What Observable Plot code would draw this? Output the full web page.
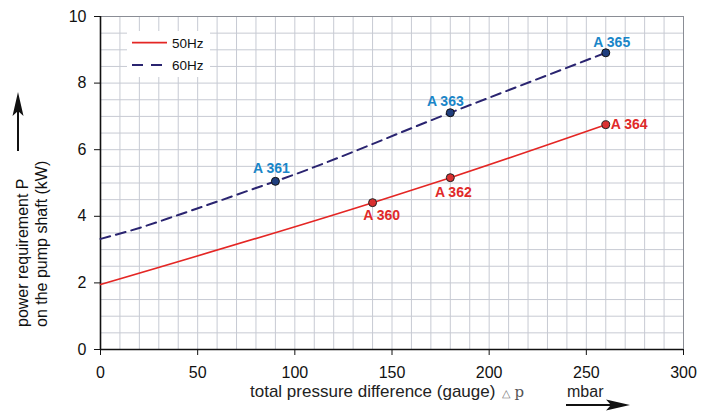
<!DOCTYPE html>
<html>
<head>
<meta charset="utf-8">
<script src="https://cdn.jsdelivr.net/npm/d3@7"></script>
<script src="https://cdn.jsdelivr.net/npm/@observablehq/plot@0.6"></script>
<style>
  html, body { margin: 0; padding: 0; background: #fff; }
  #chart { width: 714px; height: 412px; }
</style>
</head>
<body>
<div id="chart"></div>
<script>
// ---- data ----
const curve50_dp = [0, 140, 180, 260];
const curve50_P  = [1.95, 4.41, 5.16, 6.75];
const curve60_dp = [0, 20, 40, 60, 80, 90, 180, 260];
const curve60_P  = [3.32, 3.65, 4.04, 4.44, 4.85, 5.05, 7.11, 8.91];

const pumps50_name = ["A 360", "A 362", "A 364"];
const pumps50_dp   = [140, 180, 260];
const pumps50_P    = [4.41, 5.16, 6.75];
const pumps60_name = ["A 361", "A 363", "A 365"];
const pumps60_dp   = [90, 180, 260];
const pumps60_P    = [5.05, 7.11, 8.91];

const xTicks = [0, 50, 100, 150, 200, 250, 300];
const yTicks = [0, 2, 4, 6, 8, 10];
const xGrid = d3.range(0, 301, 10);
const yGrid = d3.range(0, 10.01, 0.5);
const seriesNames = ["50Hz", "60Hz"];

const line50 = curve50_dp.map((d, i) => ({dp: d, P: curve50_P[i]}));
const line60 = curve60_dp.map((d, i) => ({dp: d, P: curve60_P[i]}));
const pts50 = pumps50_name.map((n, i) => ({name: n, dp: pumps50_dp[i], P: pumps50_P[i]}));
const pts60 = pumps60_name.map((n, i) => ({name: n, dp: pumps60_dp[i], P: pumps60_P[i]}));

const RED = "#e42624", NAVY = "#2a2470", BLUE_T = "#1a86c8", RED_T = "#e02a2a";
const lbl = {fontSize: 14, fontWeight: "bold"};

const plot = Plot.plot({
  width: 714, height: 412,
  marginLeft: 100, marginRight: 31, marginTop: 16, marginBottom: 63,
  style: {fontFamily: "'Liberation Sans', Arial, sans-serif", fontSize: "16px", background: "#fff", color: "#111", overflow: "visible"},
  x: {domain: [0, 300]},
  y: {domain: [0, 10]},
  marks: [
    Plot.gridX(xGrid, {stroke: "#c7cad3", strokeOpacity: 1, strokeWidth: 1}),
    Plot.gridY(yGrid, {stroke: "#c7cad3", strokeOpacity: 1, strokeWidth: 1}),
    Plot.frame({stroke: "#8a8d95", strokeWidth: 1}),
    Plot.axisX(xTicks, {tickSize: 6, tickPadding: 11, fontSize: 16, label: null, stroke: "#111", fill: "#111"}),
    Plot.axisY(yTicks, {tickSize: 6, tickPadding: 8, fontSize: 16, label: null, stroke: "#111", fill: "#111"}),
    Plot.ruleX([0], {stroke: "#111", strokeWidth: 1.6}),
    Plot.ruleY([0], {stroke: "#111", strokeWidth: 1.6}),
    Plot.line(line50, {x: "dp", y: "P", stroke: RED, strokeWidth: 1.6, curve: "monotone-x"}),
    Plot.line(line60, {x: "dp", y: "P", stroke: NAVY, strokeWidth: 2, strokeDasharray: "10,6", curve: "monotone-x"}),
    Plot.dot(pts60, {x: "dp", y: "P", r: 4, fill: "#1f3e7e", stroke: "#111", strokeWidth: 1}),
    Plot.dot(pts50, {x: "dp", y: "P", r: 4, fill: "#d93030", stroke: "#222", strokeWidth: 1}),
    // 60 Hz labels (above)
    Plot.text(pts60, {filter: (d, i) => i === 0, x: "dp", y: "P", text: "name", dx: -4, dy: -13, fill: BLUE_T, ...lbl}),
    Plot.text(pts60, {filter: (d, i) => i === 1, x: "dp", y: "P", text: "name", dx: -5, dy: -11, fill: BLUE_T, ...lbl}),
    Plot.text(pts60, {filter: (d, i) => i === 2, x: "dp", y: "P", text: "name", dx: 6, dy: -10, fill: BLUE_T, ...lbl}),
    // 50 Hz labels
    Plot.text(pts50, {filter: (d, i) => i === 0, x: "dp", y: "P", text: "name", dx: 9, dy: 13, fill: RED_T, ...lbl}),
    Plot.text(pts50, {filter: (d, i) => i === 1, x: "dp", y: "P", text: "name", dx: 3, dy: 15, fill: RED_T, ...lbl}),
    Plot.text(pts50, {filter: (d, i) => i === 2, x: "dp", y: "P", text: "name", dx: 5, dy: 0, textAnchor: "start", fill: RED_T, ...lbl})
  ]
});

document.getElementById("chart").appendChild(plot);

// ---- decorations: legend, axis titles, arrows ----
const svg = d3.select(plot);
const font = "'Liberation Sans', Arial, sans-serif";
function txt(sel) {
  return sel.attr("font-family", font).attr("text-anchor", "start").attr("fill", "#111");
}

// legend (inside plot, top-left)
const lg = svg.append("g");
lg.append("rect").attr("x", 127).attr("y", 31).attr("width", 83).attr("height", 46).attr("fill", "#fff");
lg.append("line").attr("x1", 132).attr("x2", 167).attr("y1", 42.7).attr("y2", 42.7)
  .attr("stroke", RED).attr("stroke-width", 1.8);
lg.append("line").attr("x1", 132).attr("x2", 167).attr("y1", 65).attr("y2", 65)
  .attr("stroke", NAVY).attr("stroke-width", 2).attr("stroke-dasharray", "11,8");
txt(lg.append("text")).attr("x", 172).attr("y", 47.5).attr("font-size", 13.5).text(seriesNames[0]);
txt(lg.append("text")).attr("x", 172).attr("y", 69.5).attr("font-size", 13.5).text(seriesNames[1]);

// y title (two rotated lines)
txt(svg.append("text")).attr("transform", "translate(28,327) rotate(-90)")
  .attr("font-size", 16).text("power requirement P");
txt(svg.append("text")).attr("transform", "translate(47,327) rotate(-90)")
  .attr("font-size", 16).text("on the pump shaft (kW)");
// y arrow
svg.append("line").attr("x1", 18).attr("x2", 18).attr("y1", 151).attr("y2", 105)
  .attr("stroke", "#111").attr("stroke-width", 2);
svg.append("path").attr("d", "M18,92 L23.5,116 L18,111 L12.5,116 Z").attr("fill", "#111");

// x title
const xt = txt(svg.append("text")).attr("x", 250).attr("y", 397).attr("font-size", 17).attr("fill", "#222");
xt.append("tspan").text("total pressure difference (gauge)");
xt.append("tspan").attr("dx", 7).attr("font-size", 11).attr("fill", "#777").text("△");
xt.append("tspan").attr("dx", 4).attr("font-family", "'DejaVu Serif', 'Liberation Serif', serif")
  .attr("font-size", 15).attr("fill", "#555").text("p");
txt(svg.append("text")).attr("x", 567).attr("y", 396.5).attr("font-size", 16).attr("fill", "#222").text("mbar");
// x arrow
svg.append("line").attr("x1", 566).attr("x2", 614).attr("y1", 405).attr("y2", 405)
  .attr("stroke", "#111").attr("stroke-width", 1.8);
svg.append("path").attr("d", "M630,405 L606,399.5 L611,405 L606,410.5 Z").attr("fill", "#111");
</script>
</body>
</html>
